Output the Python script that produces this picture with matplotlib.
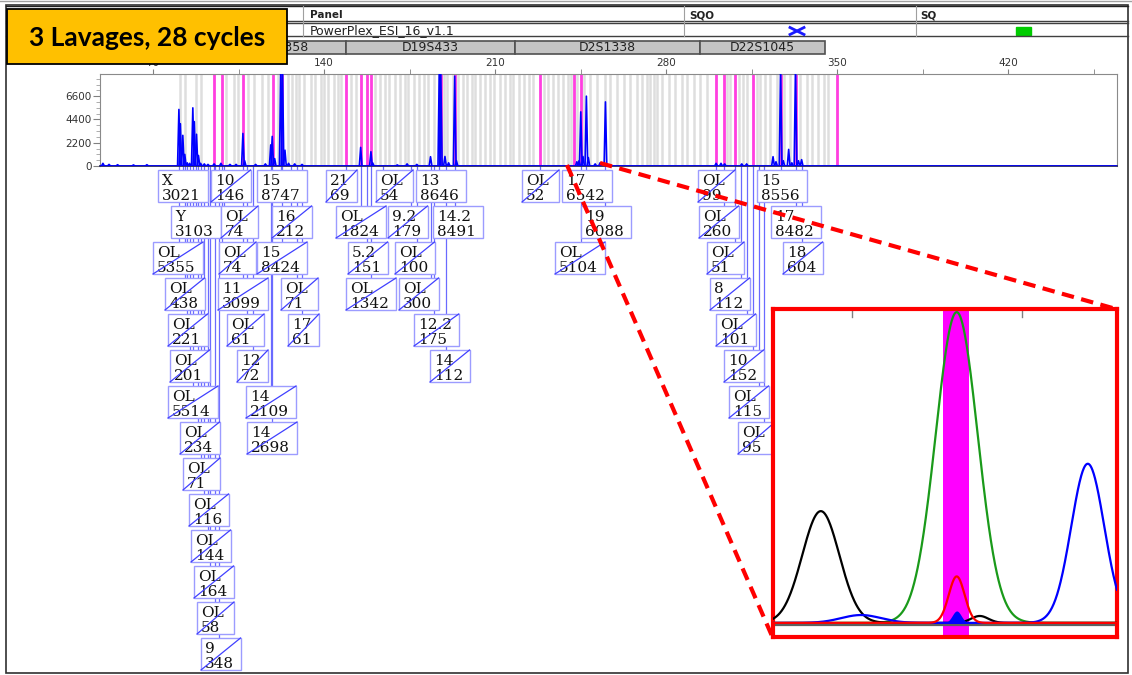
import numpy as np
import matplotlib
matplotlib.use('Agg')
import matplotlib.pyplot as plt
from matplotlib.patches import Rectangle

# ---- data ----
bp_lo, bp_hi = 48.3, 464.6      # size axis (bp)
rfu_top = 8700                  # height axis (RFU)

# blue dye trace: peak position (bp) and height (RFU)
peak_bp = [49.5, 52.0, 55.5, 62.0, 67.5,
           80.6, 81.2, 82.2, 83.0, 84.0, 85.0,
           86.3, 86.9, 87.8, 88.6, 89.5, 91.0, 92.5, 95.0, 97.8, 101.5, 104.0,
           106.8, 107.5, 112.0, 116.0,
           118.2, 118.8, 119.8,
           122.3, 123.0, 124.0, 125.5, 128.0, 131.0,
           155.0, 159.2, 159.9, 170.0, 174.0, 178.0,
           183.6, 187.2, 187.8, 189.5, 191.0, 193.5, 194.2,
           243.5, 244.4, 245.1, 246.0, 247.4, 248.2, 251.0, 253.0, 255.2,
           300.5, 302.5, 304.0, 311.0, 313.0,
           323.8, 325.0, 326.9, 328.0, 330.2, 331.5, 333.0, 334.2, 335.5]
peak_rfu = [250, 150, 120, 100, 120,
            5350, 4000, 2900, 1100, 300, 250,
            5500, 4200, 3000, 1000, 250, 200, 150, 200, 250, 150, 150,
            3080, 500, 150, 200,
            2000, 2800, 700,
            9500, 9500, 1500, 250, 200, 150,
            1760, 1350, 300, 100, 200, 150,
            880, 9500, 9000, 900, 300, 8490, 500,
            400, 500, 5120, 900, 6600, 800, 200, 300, 6060,
            250, 250, 200, 200, 200,
            880, 400, 9500, 500, 1570, 300, 9500, 500, 600]

# allele bins (grey) and flagged positions (magenta)
bin_bp = [81.2, 83.0, 87.7, 89.5, 99.8, 103.0, 104.6, 108.7, 111.4, 114.8, 116.9,
          121.0, 125.1, 126.7, 128.5, 129.8, 131.9, 134.6, 136.2, 138.7, 140.1,
          141.7, 143.9, 145.8, 147.1,
          151.0, 153.0, 161.0, 163.0, 165.0, 166.5, 169.0, 171.0, 173.0, 174.5,
          177.0, 179.0, 181.0, 182.5, 185.0, 187.0, 189.0, 190.5, 193.0, 195.0,
          197.0, 198.5, 200.5, 202.0, 204.0, 206.0, 208.0, 209.5, 212.0, 214.0,
          216.0, 217.5, 220.0, 222.0, 224.0, 225.5, 230.0, 231.7, 233.9, 235.6,
          238.0, 239.7, 240.9, 243.5, 246.5, 249.0,
          251.8, 255.2, 257.2, 260.0, 262.7, 265.4, 268.2, 270.2, 272.2, 273.6,
          275.0, 276.3, 278.4, 281.1, 283.8, 286.6, 288.6, 291.3, 294.0, 296.8,
          305.0, 306.3, 309.7, 311.7, 313.1, 317.2, 318.6, 320.6, 322.7, 325.4,
          328.1, 330.8, 334.9, 337.7, 339.7, 342.4, 344.5, 346.5]
flag_bp = [94.8, 98.1, 106.8, 119.3, 122.6, 148.9, 155.0, 157.5, 159.1, 187.7,
           193.6, 228.3, 242.2, 245.0, 300.6, 303.6, 308.4, 315.4, 326.9, 333.0, 349.9]

# allele calls
allele_name = ['X', '10', '15', '21', 'OL', '13', 'OL', '17', 'OL', '15',
               'Y', 'OL', '16', 'OL', '9.2', '14.2', '19', 'OL', '17',
               'OL', 'OL', '15', '5.2', 'OL', 'OL', 'OL', '18',
               'OL', '11', 'OL', 'OL', 'OL', '8',
               'OL', 'OL', '17', '12.2', 'OL',
               'OL', '12', '14', '10',
               'OL', '14', 'OL',
               'OL', '14', 'OL',
               'OL', 'OL', 'OL', 'OL', 'OL', '9']
allele_rfu = ['3021', '146', '8747', '69', '54', '8646', '52', '6542', '99', '8556',
              '3103', '74', '212', '1824', '179', '8491', '6088', '260', '8482',
              '5355', '74', '8424', '151', '100', '5104', '51', '604',
              '438', '3099', '71', '1342', '300', '112',
              '221', '61', '61', '175', '101',
              '201', '72', '112', '152',
              '5514', '2109', '115',
              '234', '2698', '95',
              '71', '116', '144', '164', '58', '348']
allele_bp = [82.2, 94.8, 122.3, 148.9, 164.0, 187.2, 228.3, 247.4, 300.6, 326.9,
             87.8, 96.0, 126.5, 155.0, 175.5, 193.5, 255.2, 303.6, 333.0,
             80.6, 97.8, 123.0, 157.5, 178.0, 245.1, 308.4, 335.5,
             83.0, 106.8, 129.0, 159.2, 183.6, 310.5,
             84.0, 108.5, 131.0, 185.0, 313.0,
             85.0, 111.0, 190.0, 315.4,
             86.3, 118.2, 318.0,
             88.6, 118.8, 320.0,
             89.5, 91.0, 92.5, 93.5, 95.5, 97.0]
allele_edited = ([False, True, False, True, True, False, True, False, True, False] +
                 [False, True, True, True, True, False, False, True, False] +
                 [True] * 35)

markers = ['D3S1358', 'D19S433', 'D2S1338', 'D22S1045']

# zoomed view: dye, centre, height, width (arbitrary zoom units)
zoom_dye = ['green', 'black', 'black', 'blue', 'blue', 'red']
zoom_c = [53.4, 13.9, 60.1, 91.5, 25.6, 53.4]
zoom_h = [99.0, 35.6, 2.2, 50.7, 2.5, 14.8]
zoom_s = [6.1, 5.4, 2.5, 4.8, 5.8, 2.3]
zoom_fill_c, zoom_fill_h, zoom_fill_s = 53.4, 3.8, 1.3

# ---- layout (pixels) ----
W, H = 1132, 675
label_left = [158, 211, 257, 326, 376, 416, 522, 562, 698, 757,
              171, 221, 272, 336, 388, 433, 581, 699, 771,
              153, 219, 257, 348, 395, 555, 707, 783,
              165, 218, 281, 346, 399, 710,
              168, 227, 288, 414, 716,
              170, 237, 430, 724,
              168, 246, 729,
              180, 247, 738,
              183, 189, 191, 194, 197, 201]
label_row = [0] * 10 + [1] * 9 + [2] * 8 + [3] * 6 + [4] * 5 + [5] * 4 + [6] * 3 + [7] * 3 + \
            [8, 9, 10, 11, 12, 13]
marker_edges = [214, 346, 515, 700, 825]
plot_l, plot_t, plot_r, plot_b = 100, 74, 1117, 166


def rect(l, t, r, b):
    return [l / W, 1 - b / H, (r - l) / W, (b - t) / H]


def px_of(bp):
    return plot_l + (bp - bp_lo) / (bp_hi - bp_lo) * (plot_r - plot_l)


fig = plt.figure(figsize=(W / 100, H / 100), dpi=100, facecolor='white')

# background layer in pixel coordinates
bg = fig.add_axes([0, 0, 1, 1])
bg.set_xlim(0, W)
bg.set_ylim(H, 0)
bg.axis('off')

# frame and header table
bg.plot([0, W], [1, 1], color='#a0a0a0', lw=1)
bg.add_patch(Rectangle((5.5, 5), 1122, 668, fill=False, ec='#303030', lw=1.2))
for y, c in [(6.3, '#202020'), (20.7, '#404040'), (22.7, '#404040'), (36, '#404040')]:
    bg.plot([5.5, 1127.5], [y, y], color=c, lw=1)
for x in [302.7, 684, 916]:
    bg.plot([x, x], [6.3, 36], color='#a0a0a0', lw=0.8)
bg.text(310, 15.5, 'Panel', fontsize=7.5, fontweight='bold', va='center', color='#222222')
bg.text(689, 15.5, 'SQO', fontsize=7.5, fontweight='bold', va='center', color='#222222')
bg.text(920, 15.5, 'SQ', fontsize=7.5, fontweight='bold', va='center', color='#222222')
bg.text(310, 30.5, 'PowerPlex_ESI_16_v1.1', fontsize=9, va='center', color='#222222')
bg.plot([790, 804], [27.5, 34.5], color='#1a1aff', lw=2)
bg.plot([790, 804], [34.5, 27.5], color='#1a1aff', lw=2)
bg.add_patch(Rectangle((1016, 27), 15, 8, color='#00cc00'))
for name, l, r in zip(markers, marker_edges[:-1], marker_edges[1:]):
    bg.add_patch(Rectangle((l, 40.7), r - l, 13.6, fc='#c4c4c4', ec='#505050', lw=1.2))
    bg.text((l + r) / 2, 47.8, name, fontsize=9, ha='center', va='center', color='#222222')

# allele call boxes with connectors down from the baseline
for i in range(len(allele_name)):
    name, rfu = allele_name[i], allele_rfu[i]
    n = max(len(name.replace('.', '')) + 0.5 * name.count('.'), len(rfu))
    w = max(31, 8 + 10.5 * n)
    if name == 'OL':
        w = max(w, 37)
    l = label_left[i]
    t = 170 + 36 * label_row[i]
    cx = min(max(px_of(allele_bp[i]), l + 3), l + w - 3)
    bg.plot([cx, cx], [plot_b, t], color='#6a6aff', lw=0.9, zorder=2)
    bg.add_patch(Rectangle((l, t), w, 32, fc='white', ec='#9c9cff', lw=1, zorder=3))
    bg.text(l + 4, t + 15, name, fontsize=11, family='DejaVu Serif', color='#111111', zorder=4)
    bg.text(l + 4, t + 30, rfu, fontsize=11, family='DejaVu Serif', color='#111111', zorder=4)
    if allele_edited[i]:
        bg.plot([l, l + w], [t + 32, t], color='#4040ff', lw=0.9, zorder=5)

# electropherogram
ax = fig.add_axes(rect(plot_l, plot_t, plot_r, plot_b))
ax.set_xlim(bp_lo, bp_hi)
ax.set_ylim(0, rfu_top)
for b in bin_bp:
    ax.axvline(b, color='#dedede', lw=1.8, zorder=1)
for b in flag_bp:
    ax.axvline(b, color='#ff3fe0', lw=2, zorder=2)
ax.plot([bp_lo, bp_hi], [20, 20], color='#0000ff', lw=1.2, zorder=3)
for b, h in zip(peak_bp, peak_rfu):
    ax.plot([b - 0.55, b, b + 0.55], [20, h, 20], color='#0000ff', lw=1.2, zorder=3)

ax.xaxis.set_ticks_position('top')
ax.set_xticks([70, 140, 210, 280, 350, 420])
ax.set_xticks([105, 175, 245, 315, 385, 455], minor=True)
ax.set_yticks([0, 2200, 4400, 6600])
ax.set_yticks(np.arange(0, rfu_top, 550), minor=True)
ax.tick_params(axis='x', which='both', length=3.5, color='#808080', labelsize=7.5,
               labelcolor='#333333', pad=1)
ax.tick_params(axis='y', which='major', length=5, color='#808080', labelsize=7.5,
               labelcolor='#333333', pad=1)
ax.tick_params(axis='y', which='minor', length=3, color='#a0a0a0')
for s in ['left', 'top', 'right']:
    ax.spines[s].set_color('#8a8a8a')
ax.spines['bottom'].set_color('#2a2a60')
ax.spines['bottom'].set_linewidth(1.3)

# overlay: title badge and zoom call-out
top = fig.add_axes([0, 0, 1, 1])
top.set_xlim(0, W)
top.set_ylim(H, 0)
top.axis('off')
top.patch.set_alpha(0)
top.add_patch(Rectangle((7, 9), 280, 55, fc='#ffc000', ec='black', lw=1.3))
top.text(147, 37.5, '3 Lavages, 28 cycles', fontsize=19, family='Lato', fontweight='bold',
         ha='center', va='center', color='black')
top.plot([567, 772], [165, 636], color='red', lw=3, ls=(0, (3, 1.8)))
top.plot([600, 1116], [163, 309], color='red', lw=3, ls=(0, (3, 1.8)))

# zoomed inset
ins = fig.add_axes(rect(773, 309, 1117, 637))
ins.set_xlim(0, 100)
ins.set_ylim(-4.5, 100)
ins.set_xticks([])
ins.set_yticks([])
for s in ins.spines.values():
    s.set_color('red')
    s.set_linewidth(3)
ins.axvspan(49.5, 57.1, color='#ff00ff', lw=0, zorder=1)
for x in [22.9, 72.3]:
    ins.plot([x, x], [100, 97.5], color='#808080', lw=1, zorder=2)
ins.axhline(-0.8, color='#606060', lw=1.6, zorder=2)
xs = np.linspace(0, 100, 800)
for dye in ['green', 'black', 'blue', 'red']:
    ys = np.zeros_like(xs)
    for d, c, h, s in zip(zoom_dye, zoom_c, zoom_h, zoom_s):
        if d == dye:
            ys += h * np.exp(-0.5 * ((xs - c) / s) ** 2)
    col = {'green': '#1a9a1a', 'black': 'black', 'blue': '#0000ff', 'red': '#ff0000'}[dye]
    ins.plot(xs, ys, color=col, lw=1.6, zorder=3)
ins.fill_between(xs, 0, zoom_fill_h * np.exp(-0.5 * ((xs - zoom_fill_c) / zoom_fill_s) ** 2),
                 color='#0000ff', lw=0, zorder=4)

fig.savefig('out.png', dpi=100)
